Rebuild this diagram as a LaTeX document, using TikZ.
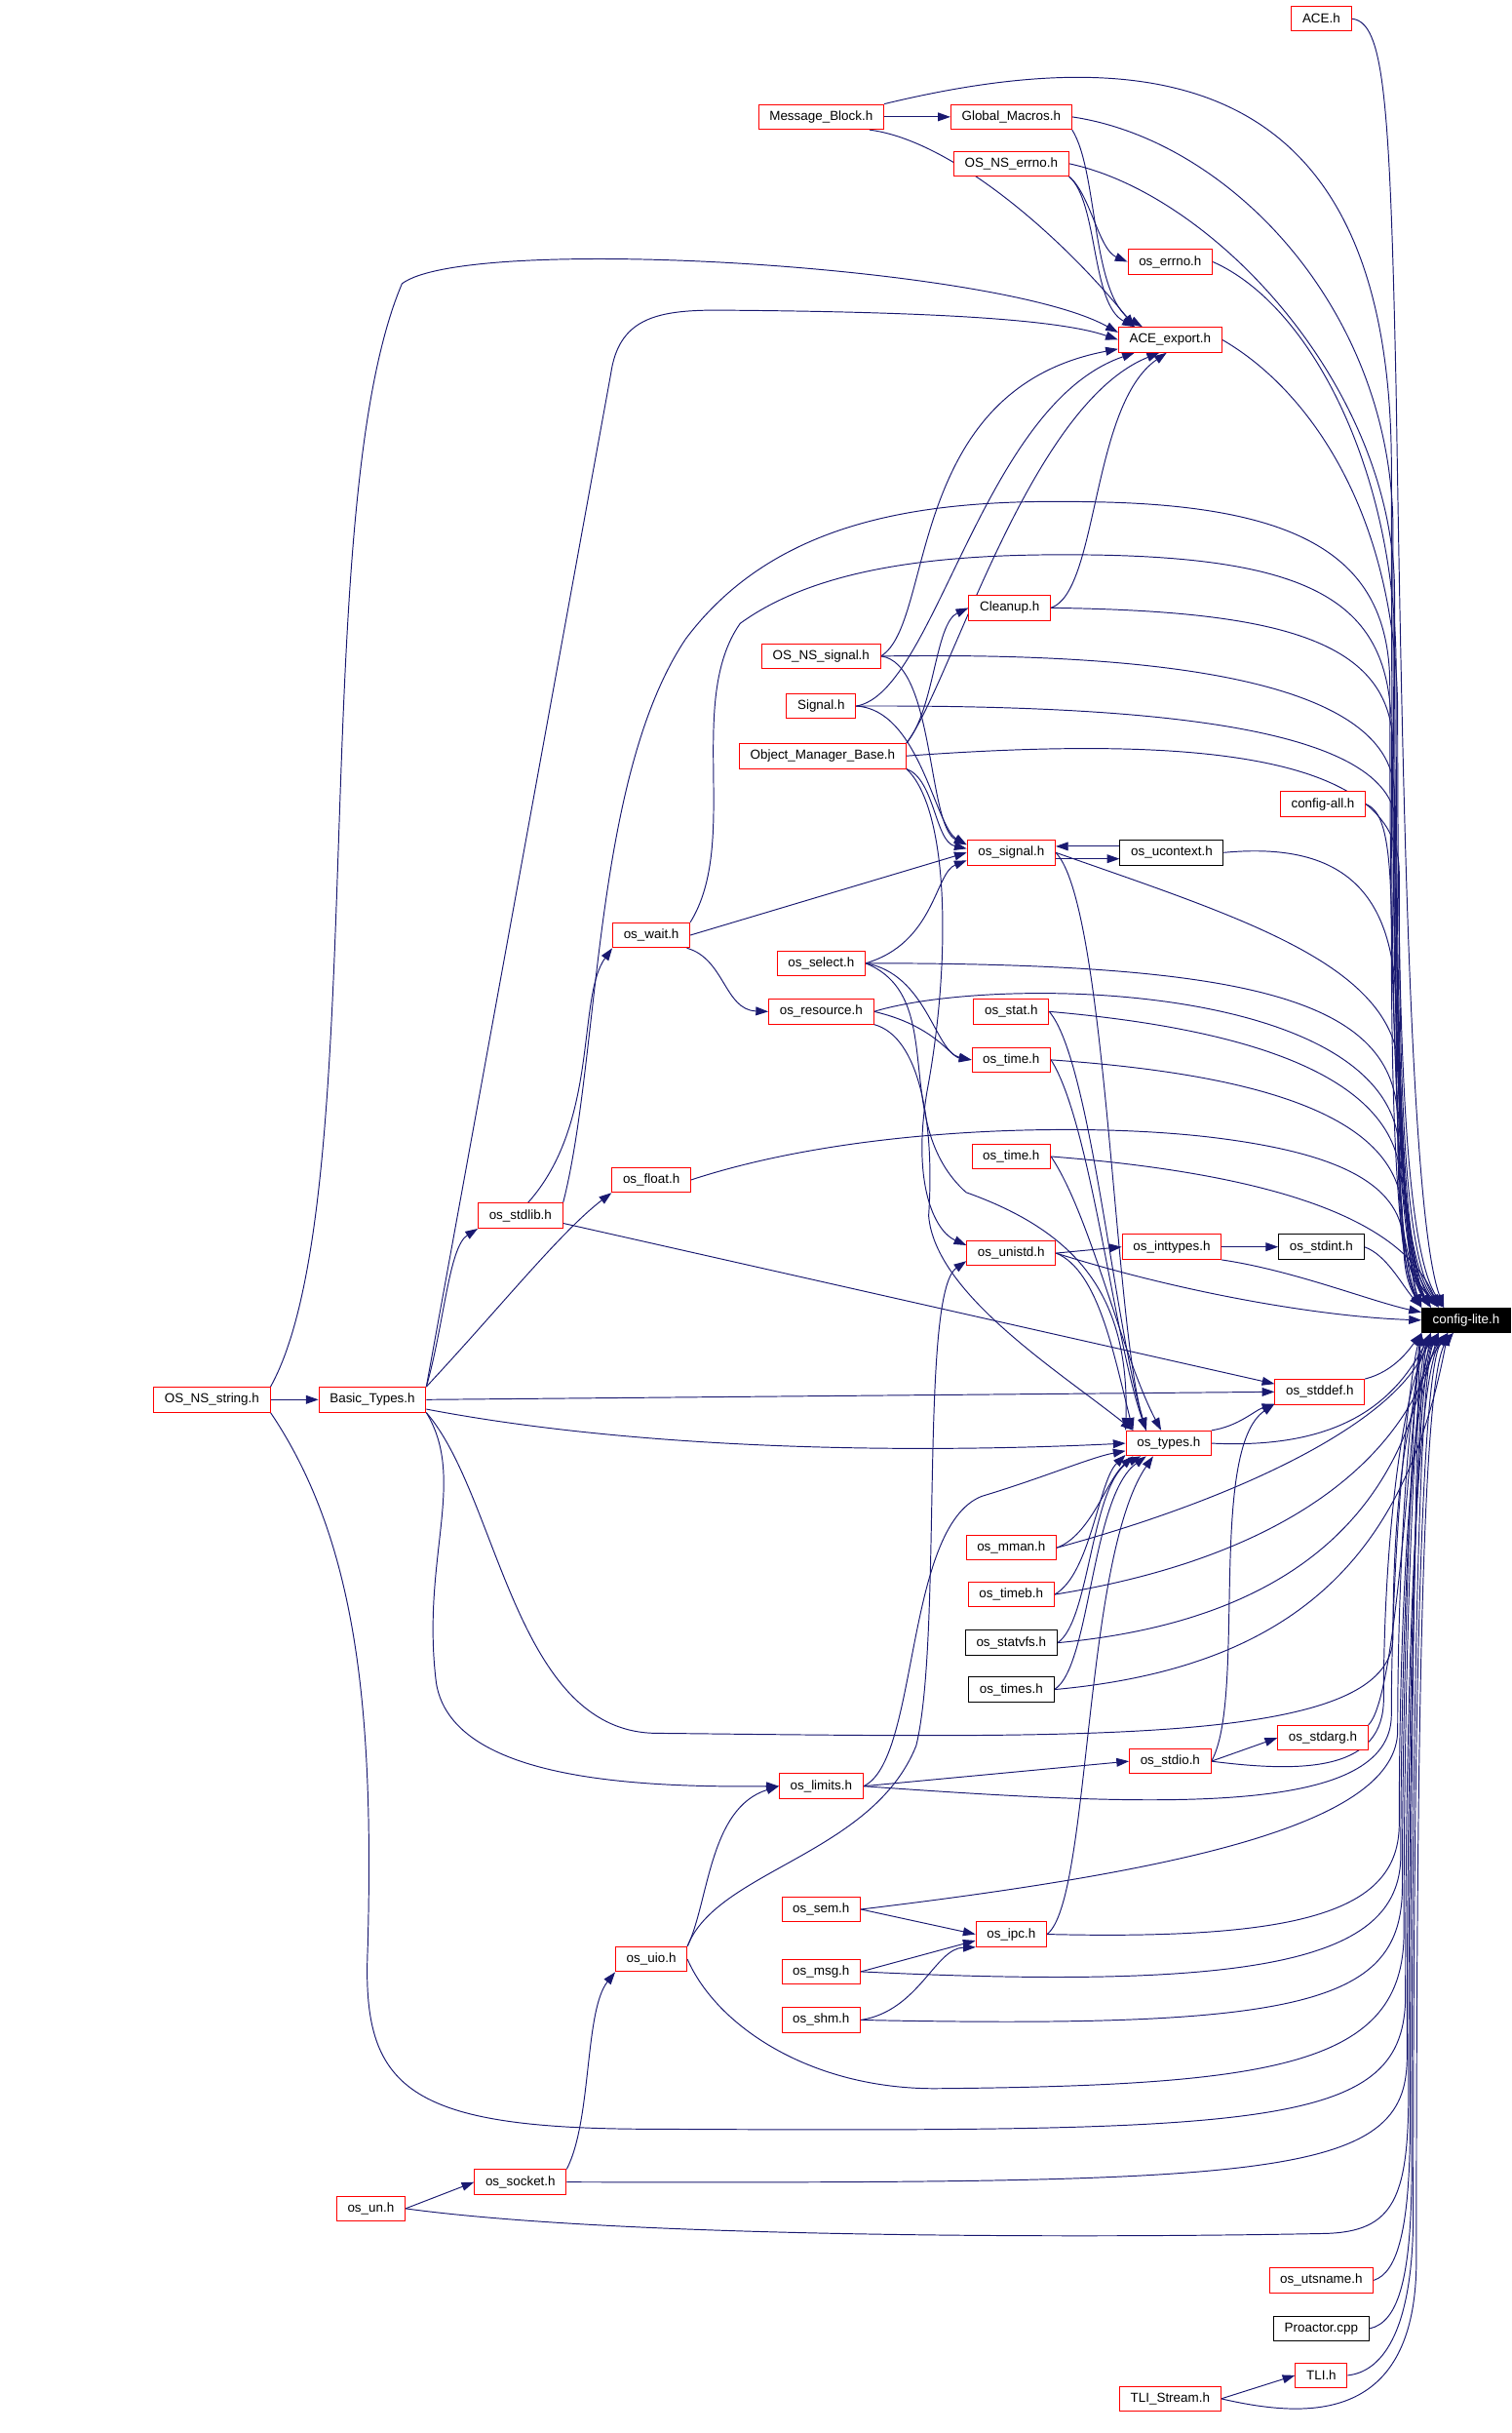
\documentclass[tikz,border=0pt]{standalone}
\usepackage{fontspec}
\setmainfont{Liberation Sans}
\usetikzlibrary{arrows.meta,backgrounds}
\definecolor{edgeblue}{HTML}{191970}
\begin{document}
\begin{tikzpicture}[x=1pt,y=-1pt,
	hdr/.style={draw=red,line width=0.6pt,fill=white,minimum height=16pt,inner xsep=7pt,inner ysep=0pt,font=\fontsize{8.4}{10}\selectfont},
	hdrblack/.style={hdr,draw=black},
	root/.style={hdr,draw=black,fill=black,text=white},
	incl/.style={draw=edgeblue,line width=0.6pt,-{Triangle[length=8pt,width=5.5pt]}}]
	\useasboundingbox (0,0) rectangle (970,1561); % Fixes the page size...
		% the files
		\node[hdr] (ACE) at (848,12) {ACE.h};
		\node[hdr] (MessageBlock) at (527,75) {Message\_Block.h};
		\node[hdr] (GlobalMacros) at (649,75) {Global\_Macros.h};
		\node[hdr] (NSErrno) at (649,105) {OS\_NS\_errno.h};
		\node[hdr] (OsErrno) at (751,168) {os\_errno.h};
		\node[hdr] (AceExport) at (751,218) {ACE\_export.h};
		\node[hdr] (Cleanup) at (648,390) {Cleanup.h};
		\node[hdr] (NSSignal) at (527,421) {OS\_NS\_signal.h};
		\node[hdr] (SignalH) at (527,453) {Signal.h};
		\node[hdr] (ObjMgr) at (528,485) {Object\_Manager\_Base.h};
		\node[hdr] (ConfigAll) at (849,516) {config-all.h};
		\node[hdr] (OsSignal) at (649,547) {os\_signal.h};
		\node[hdrblack] (OsUcontext) at (752,547) {os\_ucontext.h};
		\node[hdr] (OsWait) at (418,600) {os\_wait.h};
		\node[hdr] (OsSelect) at (527,618) {os\_select.h};
		\node[hdr] (OsResource) at (527,649) {os\_resource.h};
		\node[hdr] (OsStat) at (649,649) {os\_stat.h};
		\node[hdr] (OsTimeA) at (649,680) {os\_time.h};
		\node[hdr] (OsFloat) at (418,757) {os\_float.h};
		\node[hdr] (OsTimeB) at (649,742) {os\_time.h};
		\node[hdr] (OsStdlib) at (334,780) {os\_stdlib.h};
		\node[hdr] (OsUnistd) at (649,804) {os\_unistd.h};
		\node[hdr] (OsInttypes) at (752,800) {os\_inttypes.h};
		\node[hdrblack] (OsStdint) at (848,800) {os\_stdint.h};
		\node[root] (ConfigLite) at (941,847) {config-lite.h};
		\node[hdr] (NSString) at (136,898) {OS\_NS\_string.h};
		\node[hdr] (BasicTypes) at (239,898) {Basic\_Types.h};
		\node[hdr] (OsStddef) at (847,893) {os\_stddef.h};
		\node[hdr] (OsTypes) at (750,926) {os\_types.h};
		\node[hdr] (OsMman) at (649,993) {os\_mman.h};
		\node[hdr] (OsTimeb) at (649,1023) {os\_timeb.h};
		\node[hdrblack] (OsStatvfs) at (649,1054) {os\_statvfs.h};
		\node[hdrblack] (OsTimes) at (649,1084) {os\_times.h};
		\node[hdr] (OsStdarg) at (849,1115) {os\_stdarg.h};
		\node[hdr] (OsStdio) at (751,1130) {os\_stdio.h};
		\node[hdr] (OsLimits) at (527,1146) {os\_limits.h};
		\node[hdr] (OsSem) at (527,1225) {os\_sem.h};
		\node[hdr] (OsIpc) at (649,1241) {os\_ipc.h};
		\node[hdr] (OsUio) at (418,1257) {os\_uio.h};
		\node[hdr] (OsMsg) at (527,1265) {os\_msg.h};
		\node[hdr] (OsShm) at (527,1296) {os\_shm.h};
		\node[hdr] (OsSocket) at (334,1400) {os\_socket.h};
		\node[hdr] (OsUn) at (238,1417) {os\_un.h};
		\node[hdr] (OsUtsname) at (848,1463) {os\_utsname.h};
		\node[hdrblack] (Proactor) at (848,1494) {Proactor.cpp};
		\node[hdr] (TLI) at (848,1524) {TLI.h};
		\node[hdr] (TLIStream) at (751,1539) {TLI\_Stream.h};

	\begin{pgfonlayer}{background}
		% edges into config-lite.h from above
		\draw[incl] (ACE.east) .. controls (888,14) and (892,60) .. (896,250) .. controls (900,500) and (905,780) .. (ConfigLite.150);
		\draw[incl] (MessageBlock.north east) .. controls (760,20) and (893,60) .. (893,300) .. controls (893,560) and (895,800) .. (ConfigLite.160);
		\draw[incl] (GlobalMacros.east) .. controls (790,90) and (894,200) .. (894,340) .. controls (894,580) and (897,800) .. (ConfigLite.160);
		\draw[incl] (NSErrno.east) .. controls (780,125) and (895,250) .. (895,380) .. controls (895,600) and (898,800) .. (ConfigLite.north west);
		\draw[incl] (OsErrno.east) .. controls (840,195) and (896,300) .. (896,430) .. controls (896,620) and (899,800) .. (ConfigLite.north west);
		\draw[incl] (AceExport.east) .. controls (840,250) and (897,330) .. (897,460) .. controls (897,640) and (900,800) .. (ConfigLite.150);
		\draw[incl] (Cleanup.east) .. controls (820,392) and (894,410) .. (894,480) .. controls (894,650) and (897,810) .. (ConfigLite.155);
		\draw[incl] (NSSignal.east) .. controls (760,418) and (895,440) .. (895,510) .. controls (895,660) and (898,810) .. (ConfigLite.160);
		\draw[incl] (SignalH.east) .. controls (760,452) and (896,470) .. (896,530) .. controls (896,670) and (899,810) .. (ConfigLite.160);
		\draw[incl] (ObjMgr.east) .. controls (760,472) and (898,482) .. (898,560) .. controls (898,680) and (900,810) .. (ConfigLite.150);
		\draw[incl] (ConfigAll.east) .. controls (888,520) and (893,540) .. (893,600) .. controls (893,700) and (896,810) .. (ConfigLite.north west);
		\draw[incl] (OsUcontext.east) .. controls (860,540) and (896,570) .. (896,650) .. controls (896,730) and (899,810) .. (ConfigLite.north west);
		\draw[incl] (OsSignal.east) .. controls (800,590) and (898,620) .. (898,690) .. controls (898,750) and (901,810) .. (ConfigLite.155);
		\draw[incl] (OsWait.north east) .. controls (475,540) and (440,450) .. (475,400) .. controls (530,360) and (620,355) .. (700,356) .. controls (850,358) and (893,390) .. (893,470) .. controls (893,650) and (896,810) .. (ConfigLite.160);
		\draw[incl] (OsStdlib.north east) .. controls (385,680) and (380,500) .. (440,410) .. controls (500,330) and (600,320) .. (700,322) .. controls (840,324) and (892,360) .. (892,440) .. controls (892,640) and (895,810) .. (ConfigLite.150);
		\draw[incl] (OsSelect.east) .. controls (800,618) and (897,640) .. (897,720) .. controls (897,770) and (900,815) .. (ConfigLite.north west);
		\draw[incl] (OsResource.east) .. controls (640,625) and (898,630) .. (898,740) .. controls (898,780) and (901,815) .. (ConfigLite.155);
		\draw[incl] (OsStat.east) .. controls (800,660) and (899,690) .. (899,760) .. controls (899,790) and (902,815) .. (ConfigLite.160);
		\draw[incl] (OsTimeA.east) .. controls (820,690) and (900,720) .. (900,780) .. controls (900,800) and (903,820) .. (ConfigLite.150);
		\draw[incl] (OsFloat.east) .. controls (550,722) and (700,720) .. (780,730) .. controls (860,740) and (901,760) .. (901,800) .. controls (901,815) and (904,825) .. (ConfigLite.north west);
		\draw[incl] (OsTimeB.east) .. controls (840,755) and (903,790) .. (ConfigLite.155);
		\draw[incl] (OsStdint.east) .. controls (890,805) and (900,825) .. (ConfigLite.north west);
		\draw[incl] (OsInttypes.south east) .. controls (830,815) and (880,835) .. (ConfigLite.170);
		\draw[incl] (OsUnistd.east) .. controls (760,830) and (850,845) .. (ConfigLite.west);

		% edges into config-lite.h from below
		\draw[incl] (OsStddef.north east) .. controls (895,880) and (905,865) .. (ConfigLite.south west);
		\draw[incl] (OsTypes.east) .. controls (860,930) and (895,900) .. (ConfigLite.200);
		\draw[incl] (OsMman.east) .. controls (800,960) and (900,910) .. (ConfigLite.200);
		\draw[incl] (OsTimeb.east) .. controls (820,1000) and (900,940) .. (ConfigLite.205);
		\draw[incl] (OsStatvfs.east) .. controls (830,1040) and (901,970) .. (ConfigLite.200);
		\draw[incl] (OsTimes.east) .. controls (830,1070) and (902,1000) .. (ConfigLite.215);
		\draw[incl] (OsStdarg.north east) .. controls (895,1090) and (903,950) .. (ConfigLite.south west);
		\draw[incl] (OsStdio.east) .. controls (840,1138) and (888,1135) .. (888,1090) .. controls (888,980) and (902,880) .. (ConfigLite.205);
		\draw[incl] (OsLimits.east) .. controls (750,1160) and (893,1165) .. (893,1100) .. controls (893,990) and (905,880) .. (ConfigLite.south west);
		\draw[incl] (OsSem.east) .. controls (760,1200) and (897,1170) .. (897,1110) .. controls (897,1000) and (905,880) .. (ConfigLite.200);
		\draw[incl] (OsIpc.east) .. controls (840,1245) and (898,1225) .. (898,1170) .. controls (898,1030) and (906,880) .. (ConfigLite.215);
		\draw[incl] (OsMsg.east) .. controls (820,1278) and (899,1255) .. (899,1190) .. controls (899,1040) and (907,880) .. (ConfigLite.205);
		\draw[incl] (OsShm.east) .. controls (840,1302) and (900,1285) .. (900,1210) .. controls (900,1050) and (908,880) .. (ConfigLite.south west);
		\draw[incl] (OsUio.east) .. controls (460,1300) and (520,1340) .. (600,1340) .. controls (820,1338) and (901,1325) .. (901,1240) .. controls (901,1060) and (908,880) .. (ConfigLite.200);
		\draw[incl] (BasicTypes.south east) .. controls (320,960) and (330,1110) .. (420,1112) .. controls (700,1115) and (894,1120) .. (894,1050) .. controls (894,960) and (904,880) .. (ConfigLite.225);
		\draw[incl] (NSString.south east) .. controls (230,990) and (240,1100) .. (236,1250) .. controls (232,1340) and (260,1366) .. (420,1366) .. controls (820,1368) and (902,1365) .. (902,1280) .. controls (902,1080) and (909,880) .. (ConfigLite.215);
		\draw[incl] (OsSocket.east) .. controls (820,1401) and (903,1398) .. (903,1320) .. controls (903,1100) and (909,880) .. (ConfigLite.205);
		\draw[incl] (OsUn.east) .. controls (400,1436) and (700,1436) .. (850,1433) .. controls (895,1432) and (904,1410) .. (904,1340) .. controls (904,1100) and (910,880) .. (ConfigLite.200);
		\draw[incl] (OsUtsname.east) .. controls (897,1458) and (905,1430) .. (905,1360) .. controls (905,1100) and (910,880) .. (ConfigLite.south west);
		\draw[incl] (Proactor.east) .. controls (898,1490) and (906,1460) .. (906,1390) .. controls (906,1100) and (911,880) .. (ConfigLite.205);
		\draw[incl] (TLI.east) .. controls (885,1522) and (907,1500) .. (907,1420) .. controls (907,1100) and (912,880) .. (ConfigLite.215);
		\draw[incl] (TLIStream.east) .. controls (840,1552) and (909,1555) .. (909,1450) .. controls (909,1100) and (913,880) .. (ConfigLite.225);

		% edges into ACE_export.h
		\draw[incl] (MessageBlock.east) -- (GlobalMacros.west);
		\draw[incl] (MessageBlock.-15) .. controls (610,90) and (680,150) .. (AceExport.160);
		\draw[incl] (GlobalMacros.south east) .. controls (705,110) and (700,190) .. (AceExport.155);
		\draw[incl] (NSErrno.south east) .. controls (700,125) and (705,160) .. (OsErrno.west);
		\draw[incl] (NSErrno.south east) .. controls (705,130) and (700,195) .. (AceExport.160);
		\draw[incl] (NSString.north east) .. controls (240,770) and (195,330) .. (258,182) .. controls (300,150) and (640,170) .. (AceExport.172);
		\draw[incl] (BasicTypes.north east) -- (392,240) .. controls (397,205) and (420,199) .. (460,199) .. controls (600,200) and (680,205) .. (AceExport.west);
		\draw[incl] (Cleanup.east) .. controls (705,380) and (700,260) .. (AceExport.-105);
		\draw[incl] (NSSignal.east) .. controls (600,400) and (580,250) .. (AceExport.190);
		\draw[incl] (SignalH.east) .. controls (600,445) and (630,260) .. (AceExport.-160);
		\draw[incl] (ObjMgr.north east) .. controls (610,440) and (660,260) .. (AceExport.-130);
		\draw[incl] (ObjMgr.north east) .. controls (600,455) and (600,400) .. (Cleanup.west);

		% edges into os_signal.h and os_unistd.h
		\draw[incl] (NSSignal.east) .. controls (600,425) and (595,530) .. (OsSignal.170);
		\draw[incl] (SignalH.east) .. controls (590,455) and (600,530) .. (OsSignal.170);
		\draw[incl] (ObjMgr.south east) .. controls (600,500) and (600,540) .. (OsSignal.175);
		\draw[incl] (ObjMgr.south east) .. controls (610,520) and (610,620) .. (595,700) .. controls (585,760) and (600,790) .. (OsUnistd.170);
		\draw[incl] (OsWait.east) -- (OsSignal.west);
		\draw[incl] (OsSelect.east) .. controls (600,605) and (600,560) .. (OsSignal.190);
		\draw[incl] (OsWait.-20) .. controls (465,615) and (465,648) .. (OsResource.west);
		\draw[incl] ([yshift=-4pt]OsSignal.east) -- ([yshift=-4pt]OsUcontext.west);
		\draw[incl] ([yshift=4pt]OsUcontext.west) -- ([yshift=4pt]OsSignal.east);
		\draw[incl] (OsStdlib.60) .. controls (385,720) and (370,640) .. (OsWait.south west);
		\draw[incl] (BasicTypes.north east) .. controls (285,850) and (288,800) .. (OsStdlib.south west);
		\draw[incl] (BasicTypes.north east) .. controls (320,840) and (360,790) .. (OsFloat.south west);
		\draw[incl] (OsStdlib.-10) -- (OsStddef.170);
		\draw[incl] (OsUio.north east) .. controls (460,1200) and (560,1190) .. (588,1120) .. controls (605,1050) and (590,830) .. (OsUnistd.190);

		% edges into os_types.h and os_stddef.h
		\draw[incl] (OsSignal.east) .. controls (710,580) and (715,850) .. (OsTypes.150);
		\draw[incl] (OsSelect.east) .. controls (610,640) and (570,720) .. (620,765) .. controls (690,790) and (725,830) .. (OsTypes.north west);
		\draw[incl] (OsSelect.east) .. controls (595,625) and (600,675) .. (OsTimeA.west);
		\draw[incl] (OsResource.east) .. controls (600,658) and (610,678) .. (OsTimeA.west);
		\draw[incl] (OsResource.south east) .. controls (590,665) and (600,720) .. (596,780) .. controls (600,830) and (680,880) .. (OsTypes.160);
		\draw[incl] (OsStat.east) .. controls (700,680) and (715,850) .. (OsTypes.150);
		\draw[incl] (OsTimeA.east) .. controls (700,720) and (715,860) .. (OsTypes.150);
		\draw[incl] (OsTimeB.east) .. controls (700,780) and (720,870) .. (OsTypes.120);
		\draw[incl] (OsUnistd.east) -- (OsInttypes.west);
		\draw[incl] (OsUnistd.east) .. controls (705,815) and (715,870) .. (OsTypes.160);
		\draw[incl] (OsInttypes.east) -- (OsStdint.west);
		\draw[incl] (NSString.east) -- (BasicTypes.west);
		\draw[incl] (BasicTypes.east) -- (OsStddef.west);
		\draw[incl] (BasicTypes.-10) .. controls (420,932) and (600,932) .. (OsTypes.west);
		\draw[incl] (BasicTypes.south east) .. controls (300,950) and (270,1000) .. (280,1080) .. controls (290,1140) and (400,1147) .. (OsLimits.west);
		\draw[incl] (OsTypes.north east) .. controls (795,915) and (805,905) .. (OsStddef.-165);
		\draw[incl] (OsMman.east) .. controls (700,985) and (710,950) .. (OsTypes.-160);
		\draw[incl] (OsTimeb.east) .. controls (700,1010) and (705,950) .. (OsTypes.-165);
		\draw[incl] (OsStatvfs.east) .. controls (700,1040) and (700,950) .. (OsTypes.-155);
		\draw[incl] (OsTimes.east) .. controls (700,1070) and (700,960) .. (OsTypes.-150);
		\draw[incl] (OsIpc.east) .. controls (700,1220) and (695,1000) .. (OsTypes.-140);
		\draw[incl] (OsLimits.east) .. controls (590,1130) and (580,980) .. (630,960) .. controls (670,948) and (700,935) .. (OsTypes.190);
		\draw[incl] (OsStdio.east) .. controls (800,1090) and (775,930) .. (OsStddef.-165);

		% lower part
		\draw[incl] (OsStdio.east) -- (OsStdarg.west);
		\draw[incl] (OsLimits.east) -- (OsStdio.west);
		\draw[incl] (OsUio.north east) .. controls (455,1220) and (455,1160) .. (OsLimits.west);
		\draw[incl] (OsSem.east) -- (OsIpc.west);
		\draw[incl] (OsMsg.east) -- (OsIpc.190);
		\draw[incl] (OsShm.east) .. controls (590,1290) and (600,1250) .. (OsIpc.200);
		\draw[incl] (OsSocket.north east) .. controls (380,1360) and (375,1290) .. (OsUio.south west);
		\draw[incl] (OsUn.east) -- (OsSocket.west);
		\draw[incl] (TLIStream.east) -- (TLI.west);
	\end{pgfonlayer}
	\end{tikzpicture}
\end{document}
